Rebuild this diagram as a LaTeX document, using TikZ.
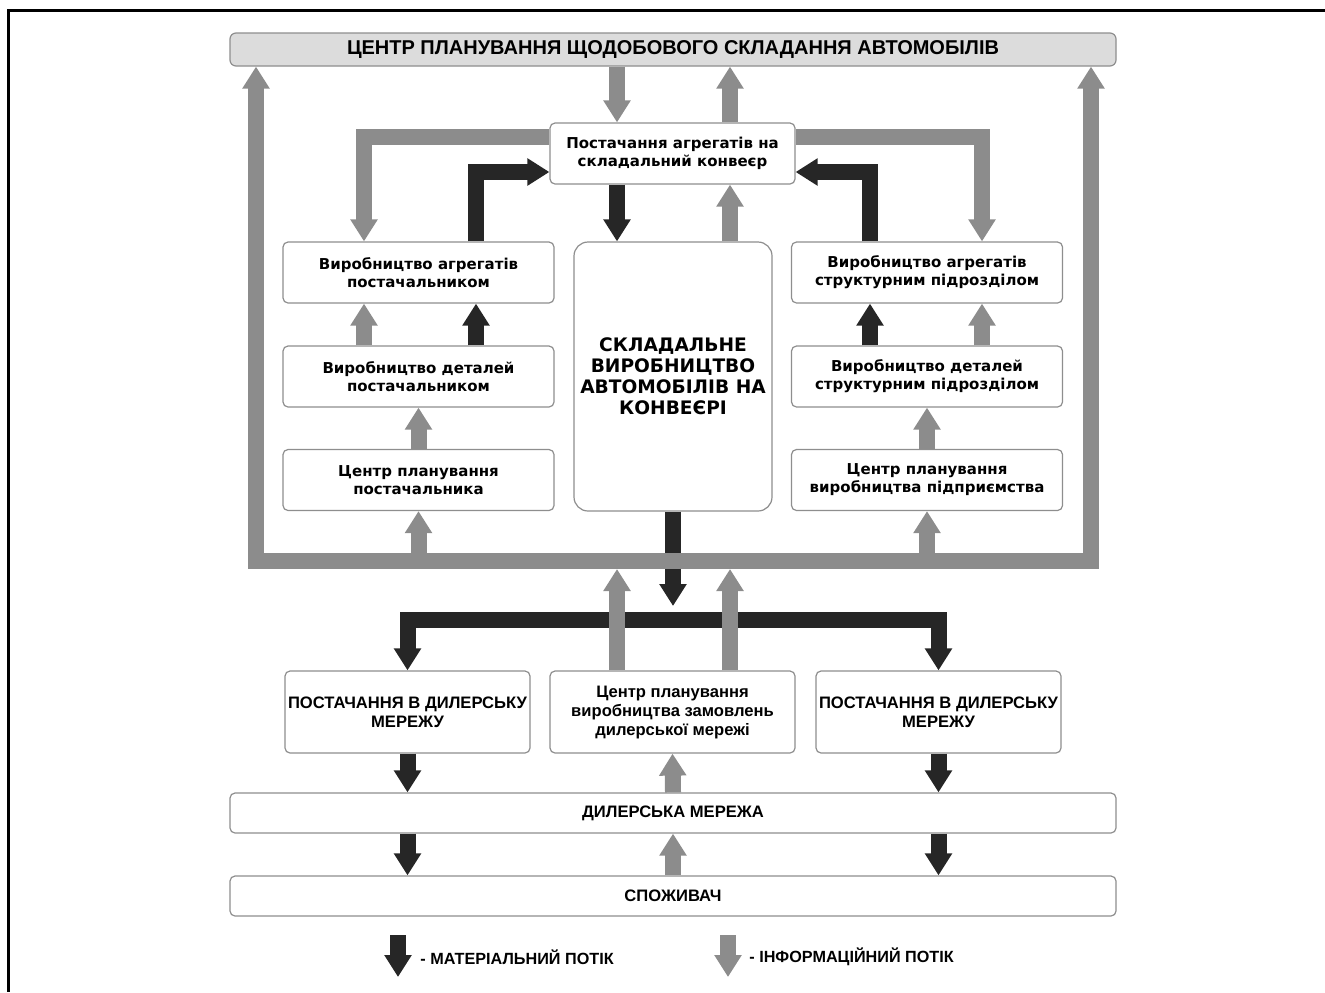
\documentclass[tikz,border=0pt]{standalone}
\usepackage{fontspec}
\setmainfont{DejaVu Sans}
\newfontfamily\capsfont{Liberation Sans}
\usepackage{tikz}
\usetikzlibrary{arrows.meta}
\usepackage{xcolor}
\definecolor{infogray}{HTML}{8C8C8C}
\definecolor{matblack}{HTML}{262626}
\definecolor{boxline}{HTML}{8E8E8E}
\definecolor{titlefill}{HTML}{DCDCDC}

\begin{document}
\begin{tikzpicture}[
  x=0.5pt,y=-0.5pt,
  info/.style={-{Triangle[length=11pt,width=13pt]},line width=8pt,
    draw=infogray,line join=miter},
  mat/.style={-{Triangle[length=11pt,width=13pt]},line width=8pt,
    draw=matblack,line join=miter},
  both/.style={{Triangle[length=11pt,width=13pt]}-{Triangle[length=11pt,width=13pt]}},
  box/.style={draw=boxline,fill=white,line width=.6pt,rounded corners=2.5pt,
    align=center,inner sep=1pt,font=\bfseries\fontsize{7.5}{9}\selectfont},
  capsbox/.style={box,font=\capsfont\bfseries\fontsize{8.3}{9.5}\selectfont},
  unit/.style={box,minimum width=135.5pt,minimum height=30.5pt},
  dealer/.style={capsbox,minimum width=122.5pt,minimum height=41pt},
  wide/.style={capsbox,minimum width=443pt,minimum height=20pt},
  legend/.style={inner sep=0pt,anchor=west,
    font=\capsfont\bfseries\fontsize{8.1}{9.5}\selectfont}
]
\useasboundingbox (0,0) rectangle (1325,992);
\draw[line width=1.5pt,line join=miter] (1325,10) -- (8,10) -- (8,992);

% Planning centre and the assembly block
\node[box,fill=titlefill,rounded corners=3pt,minimum width=443pt,
  minimum height=16.5pt,font=\capsfont\bfseries\fontsize{10}{12}\selectfont]
  (title) at (673,49.5) {ЦЕНТР ПЛАНУВАННЯ ЩОДОБОВОГО СКЛАДАННЯ АВТОМОБІЛІВ};
\node[box,minimum width=122.5pt,minimum height=30.5pt] (supply)
  at (672.5,153.5) {Постачання агрегатів на\\складальний конвеєр};
\node[box,rounded corners=7pt,minimum width=99pt,minimum height=134.5pt,
  font=\bfseries\fontsize{9.3}{10.5}\selectfont] (core) at (673,376.5)
  {СКЛАДАЛЬНЕ\\ВИРОБНИЦТВО\\АВТОМОБІЛІВ НА\\КОНВЕЄРІ};

% Supplier column and own-plant column
\node[unit] (lagg) at (418.5,272.5) {Виробництво агрегатів\\постачальником};
\node[unit] (ldet) at (418.5,376.5) {Виробництво деталей\\постачальником};
\node[unit] (lplan) at (418.5,480) {Центр планування\\постачальника};
\node[unit] (ragg) at (927,272.5)
  {Виробництво агрегатів\\структурним підрозділом};
\node[unit] (rdet) at (927,376.5)
  {Виробництво деталей\\структурним підрозділом};
\node[unit] (rplan) at (927,480)
  {Центр планування\\виробництва підприємства};

% Dealer side
\node[dealer] (dsl) at (407.5,712) {ПОСТАЧАННЯ В ДИЛЕРСЬКУ\\МЕРЕЖУ};
\node[dealer] (dcen) at (672.5,712)
  {Центр планування\\виробництва замовлень\\дилерської мережі};
\node[dealer] (dsr) at (938.5,712) {ПОСТАЧАННЯ В ДИЛЕРСЬКУ\\МЕРЕЖУ};
\node[wide] (dnet) at (673,813) {ДИЛЕРСЬКА МЕРЕЖА};
\node[wide] (cons) at (673,896) {СПОЖИВАЧ};

% Lanes used by the flows
\coordinate (xl) at (617,0);
\coordinate (xr) at (730,0);
\coordinate (xlg) at (364,0);
\coordinate (xlb) at (476,0);
\coordinate (xrb) at (870,0);
\coordinate (xrg) at (982,0);
\coordinate (xfl) at (256,561);
\coordinate (xfr) at (1091,561);
\coordinate (barlow) at (673,569);
\coordinate (split) at (673,606);
\coordinate (tbar) at (673,620);

% Material flows
\draw[mat] (supply.south -| xl) -- (core.north -| xl);
\draw[mat] (lagg.north -| xlb) |- ([yshift=-9.25pt]supply.west);
\draw[mat] (ragg.north -| xrb) |- ([yshift=-9.25pt]supply.east);
\draw[mat] (ldet.north -| xlb) -- (lagg.south -| xlb);
\draw[mat] (rdet.north -| xrb) -- (ragg.south -| xrb);
\draw[mat] (core.south) -- (split);
\draw[mat,both] (dsl.north) |- (tbar) -| (dsr.north);
\draw[mat] (dsl.south) -- (dsl.south |- dnet.north);
\draw[mat] (dsr.south) -- (dsr.south |- dnet.north);
\draw[mat] (dsl.south |- dnet.south) -- (dsl.south |- cons.north);
\draw[mat] (dsr.south |- dnet.south) -- (dsr.south |- cons.north);

% Information flows
\draw[info,both] (title.south -| xfl) -- (xfl) -- (xfr) -- (title.south -| xfr);
\draw[info] (title.south -| xl) -- (supply.north -| xl);
\draw[info] (supply.north -| xr) -- (title.south -| xr);
\draw[info] (core.north -| xr) -- (supply.south -| xr);
\draw[info] ([yshift=8.25pt]supply.west) -| (lagg.north -| xlg);
\draw[info] ([yshift=8.25pt]supply.east) -| (ragg.north -| xrg);
\draw[info] (ldet.north -| xlg) -- (lagg.south -| xlg);
\draw[info] (rdet.north -| xrg) -- (ragg.south -| xrg);
\draw[info] (lplan.north) -- (ldet.south);
\draw[info] (rplan.north) -- (rdet.south);
\draw[info] (lplan.south |- xfl) -- (lplan.south);
\draw[info] (rplan.south |- xfr) -- (rplan.south);
\draw[info] (dcen.north -| xl) -- (xl |- barlow);
\draw[info] (dcen.north -| xr) -- (xr |- barlow);
\draw[info] (dnet.north) -- (dcen.south);
\draw[info] (cons.north) -- (dnet.south);

% Legend
\node[legend] (lmat) at (420,957) {- МАТЕРІАЛЬНИЙ ПОТІК};
\node[legend] (linf) at (749,957) {- ІНФОРМАЦІЙНИЙ ПОТІК};
\draw[mat] (lmat.west) ++(-22,-22) -- ++(0,42);
\draw[info] (linf.west) ++(-21,-22) -- ++(0,42);
\end{tikzpicture}
\end{document}
